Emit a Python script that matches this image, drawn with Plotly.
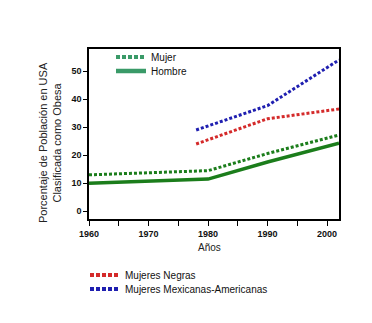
import plotly.graph_objects as go

# Data
years_all = [1960, 1980, 1990, 2002]
hombre = [10.0, 11.5, 17.6, 24.3]
mujer = [13.0, 14.5, 20.6, 27.2]
years_minor = [1978, 1990, 2002]
negras = [24.0, 33.0, 36.5]
mexicanas = [29.0, 37.7, 54.0]

x_tickvals = [1960, 1965, 1970, 1975, 1980, 1985, 1990, 1995, 2000]
x_ticktext = ["1960", "", "1970", "", "1980", "", "1990", "", "2000"]
y_tickvals = [0, 10, 20, 30, 40, 50]

W, H = 372, 323
FONT = "Liberation Sans, Arial, sans-serif"

fig = go.Figure()
line_green = "#1b7d1b"
leg_green = "#3a9a68"
red = "#d42a2a"
blue = "#1f1fb0"

fig.add_trace(go.Scatter(x=years_all, y=mujer, mode="lines", showlegend=False,
                         line=dict(color=line_green, width=3, dash="3px,2px")))
fig.add_trace(go.Scatter(x=years_all, y=hombre, mode="lines", showlegend=False,
                         line=dict(color=line_green, width=3.5)))
fig.add_trace(go.Scatter(x=years_minor, y=negras, mode="lines", showlegend=False,
                         line=dict(color=red, width=3, dash="3px,2px")))
fig.add_trace(go.Scatter(x=years_minor, y=mexicanas, mode="lines", showlegend=False,
                         line=dict(color=blue, width=3, dash="3px,2px")))

# legend entries
fig.add_trace(go.Scatter(x=[None], y=[None], mode="lines", name="Mujer", legend="legend",
                         line=dict(color=leg_green, width=4, dash="4px,2px")))
fig.add_trace(go.Scatter(x=[None], y=[None], mode="lines", name="Hombre", legend="legend2",
                         line=dict(color=leg_green, width=4.5)))
fig.add_trace(go.Scatter(x=[None], y=[None], mode="lines", name="Mujeres Negras", legend="legend3",
                         line=dict(color=red, width=4, dash="4px,2px")))
fig.add_trace(go.Scatter(x=[None], y=[None], mode="lines", name="Mujeres Mexicanas-Americanas", legend="legend4",
                         line=dict(color=blue, width=4, dash="4px,2px")))

def leg(xpx, ypx):
    return dict(x=xpx / W, y=1 - ypx / H, xref="container", yref="container",
                xanchor="left", yanchor="middle", bgcolor="rgba(0,0,0,0)",
                borderwidth=0, font=dict(family=FONT, size=10, color="#111"))

ml, mr, mt, mb = 89, 33, 49, 104
fig.update_layout(
    width=W, height=H,
    margin=dict(l=ml, r=mr, t=mt, b=mb, pad=0, autoexpand=False),
    paper_bgcolor="white", plot_bgcolor="white",
    font=dict(family=FONT, size=10, color="#111"),
    legend=leg(111, 57),
    legend2=leg(111, 71),
    legend3=leg(85, 275),
    legend4=leg(85, 289),
    xaxis=dict(range=[1960, 2002], tickvals=x_tickvals, ticktext=x_ticktext,
               showgrid=False, zeroline=False, showline=True, linecolor="#000",
               linewidth=1.5, mirror=True, ticks="outside", ticklen=5, tickcolor="#000",
               tickfont=dict(family=FONT, size=9, color="#111", weight="bold"),
               automargin=False),
    yaxis=dict(range=[-2.75, 57.9], tickvals=y_tickvals,
               showgrid=False, zeroline=False, showline=True, linecolor="#000",
               linewidth=1.5, mirror=True, ticks="outside", ticklen=4, tickcolor="#000",
               tickfont=dict(family=FONT, size=9, color="#111", weight="bold"),
               automargin=False),
    annotations=[
        dict(text="Porcentaje de Población en USA<br>Clasificada como Obesa",
             xref="paper", yref="paper", x=(50 - ml) / (W - ml - mr), y=(219 - 143) / (H - mt - mb),
             xanchor="center", yanchor="middle", textangle=-90, showarrow=False,
             font=dict(family=FONT, size=11, color="#222")),
        dict(text="Años", xref="paper", yref="paper",
             x=(209 - ml) / (W - ml - mr), y=(219 - 247) / (H - mt - mb),
             xanchor="center", yanchor="middle", showarrow=False,
             font=dict(family=FONT, size=10, color="#222")),
    ],
)

fig.write_html("out.html")
